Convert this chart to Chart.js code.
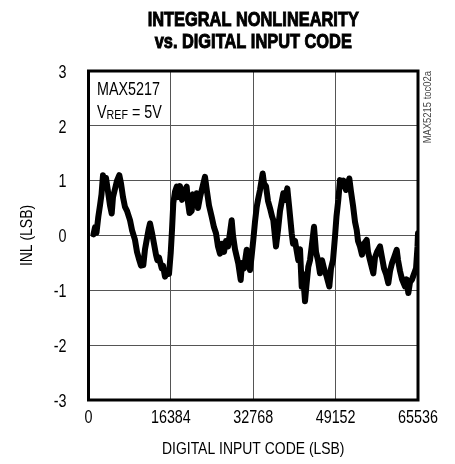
<!DOCTYPE html>
<html>
<head>
<meta charset="utf-8">
<script src="https://cdn.jsdelivr.net/npm/chart.js@4/dist/chart.umd.min.js"></script>
<style>
  html, body { margin: 0; padding: 0; background: #fff; }
  #wrap { width: 455px; height: 464px; }
</style>
</head>
<body>
<div id="wrap"><canvas id="inlChart" width="455" height="464"></canvas></div>
<script>
// valeurs (code d'entree, INL en LSB)
const codes = [995, 1293, 1591, 1949, 2287, 2586, 2884, 3182, 3481, 3879,
  4276, 4615, 4873, 5271, 5669, 6126, 6464, 6862, 7260, 7658,
  8254, 8652, 9249, 9647, 10104, 10442, 10900, 11238, 11576, 11934,
  12232, 12630, 13028, 13426, 13684, 14022, 14560, 14818, 15216, 15614,
  16011, 16350, 16608, 16867, 17205, 17543, 17802, 18199, 18597, 18995,
  19532, 19791, 20089, 20527, 20785, 21183, 21521, 21780, 22177, 22575,
  23172, 23570, 23967, 24505, 24962, 25360, 25758, 26155, 26553, 26951,
  27349, 27747, 28144, 28482, 28741, 29139, 29795, 30272, 30531, 30929,
  31466, 31724, 32122, 32420, 32778, 33117, 33455, 33713, 34111, 34648,
  34907, 35305, 35703, 36100, 36498, 36757, 37294, 37692, 38090, 38746,
  39084, 39542, 39880, 40417, 40676, 41074, 41730, 42068, 42406, 42665,
  43063, 43361, 43719, 44057, 44395, 44853, 45251, 45648, 46046, 46444,
  46842, 47378, 47895, 48233, 48631, 49029, 49327, 49685, 50023, 50421,
  50719, 51216, 51873, 52211, 52609, 53007, 53345, 53604, 54001, 54399,
  54797, 55334, 55593, 55991, 56647, 56985, 57383, 57980, 58378, 58775,
  59173, 59636, 59974, 60372, 60770, 61307, 61565, 61963, 62361, 62958,
  63256, 63614, 63952, 64350, 64748, 65146, 65439, 65536];
const inl = [0.02, 0.15, 0.05, 0.34, 0.55, 0.75, 1.10, 0.95, 1.05, 0.80,
  0.55, 0.40, 0.70, 0.85, 1.00, 1.10, 0.95, 0.70, 0.52, 0.45,
  0.28, 0.10, -0.08, -0.30, -0.45, -0.55, -0.54, -0.25, -0.08, 0.10,
  0.22, 0.05, -0.15, -0.35, -0.45, -0.40, -0.60, -0.55, -0.75, -0.65,
  -0.70, -0.32, 0.10, 0.59, 0.80, 0.89, 0.70, 0.90, 0.65, 0.80,
  0.89, 0.60, 0.41, 0.45, 0.75, 0.60, 0.77, 0.50, 0.70, 0.85,
  1.07, 0.80, 0.55, 0.34, 0.15, 0.04, -0.20, -0.33, -0.15, -0.30,
  -0.10, -0.20, 0.05, 0.28, 0.00, -0.25, -0.51, -0.81, -0.50, -0.60,
  -0.26, -0.45, -0.63, -0.40, -0.08, 0.25, 0.52, 0.65, 0.83, 1.13,
  0.95, 0.90, 0.63, 0.50, 0.35, 0.28, -0.20, 0.10, 0.45, 0.77,
  0.65, 0.86, 0.55, 0.04, -0.15, -0.10, -0.45, -0.25, -0.93, -0.70,
  -1.20, -0.90, -0.57, -0.45, -0.20, 0.16, -0.30, -0.45, -0.69, -0.45,
  -0.60, -0.75, -0.93, -0.60, -0.45, -0.02, 0.35, 0.65, 1.01, 0.90,
  1.00, 0.83, 1.04, 0.80, 0.55, 0.25, 0.10, -0.10, -0.20, -0.35,
  -0.15, -0.08, -0.30, -0.45, -0.69, -0.40, -0.30, -0.20, -0.40, -0.60,
  -0.70, -0.87, -0.65, -0.50, -0.40, -0.26, -0.45, -0.65, -0.80, -0.93,
  -0.80, -1.05, -0.85, -0.80, -0.70, -0.60, -0.20, 0.04];

const xTicks = [0, 16384, 32768, 49152, 65536];
const yTicks = [-3, -2, -1, 0, 1, 2, 3];

const titleLines = ['INTEGRAL NONLINEARITY', 'vs. DIGITAL INPUT CODE'];
const xTitle = 'DIGITAL INPUT CODE (LSB)';
const yTitle = 'INL (LSB)';
const sans = '"Liberation Sans", Arial, sans-serif';

// texte etroit : Liberation Sans compresse horizontalement
function narrowText(ctx, text, x, y, font, align, sx, rot, heavy) {
    ctx.save();
    ctx.font = font;
    ctx.textAlign = align;
    ctx.translate(x, y);
    if (rot) ctx.rotate(rot);
    ctx.scale(sx, 1);
    ctx.fillText(text, 0, 0);
    if (heavy) {
        ctx.lineWidth = heavy;
        ctx.strokeStyle = ctx.fillStyle;
        ctx.strokeText(text, 0, 0);
    }
    ctx.restore();
}

const decorPlugin = {
    id: 'decor',
    afterDraw(chart) {
        const ctx = chart.ctx;
        const a = chart.chartArea;
        const xs = chart.scales.x;
        const ys = chart.scales.y;
        const sx = 0.82;
        ctx.save();
        ctx.fillStyle = '#000';
        ctx.textBaseline = 'middle';

        // titre
        const cx = (a.left + a.right) / 2;
        narrowText(ctx, titleLines[0], cx, 20, 'bold 21px ' + sans, 'center', 0.78, 0, 1);
        narrowText(ctx, titleLines[1], cx, 42, 'bold 21px ' + sans, 'center', 0.78, 0, 1);

        // graduations
        xTicks.forEach(v => {
            narrowText(ctx, String(v), xs.getPixelForValue(v), 418, '17.5px ' + sans, 'center', sx);
        });
        yTicks.forEach(v => {
            narrowText(ctx, String(v), a.left - 22, ys.getPixelForValue(v) + 2, '17.5px ' + sans, 'right', sx);
        });

        // titres des axes
        narrowText(ctx, xTitle, cx, 449, '17px ' + sans, 'center', sx);
        narrowText(ctx, yTitle, 27, (a.top + a.bottom) / 2, '17px ' + sans, 'center', sx, -Math.PI / 2);

        // cadre
        ctx.lineWidth = 3;
        ctx.strokeStyle = '#000';
        ctx.strokeRect(a.left, a.top, a.right - a.left, a.bottom - a.top);

        // annotations
        ctx.textBaseline = 'alphabetic';
        const f1 = '17.5px ' + sans;
        const f2 = '13px ' + sans;
        let x = a.left + 8.5;
        narrowText(ctx, 'MAX5217', x, 95, f1, 'left', sx);
        narrowText(ctx, 'V', x, 118, f1, 'left', sx);
        ctx.font = f1;
        x += ctx.measureText('V').width * sx;
        narrowText(ctx, 'REF', x, 119, f2, 'left', sx);
        ctx.font = f2;
        x += ctx.measureText('REF').width * sx;
        narrowText(ctx, ' = 5V', x, 118, f1, 'left', sx);

        // reference verticale
        ctx.fillStyle = '#444';
        ctx.textBaseline = 'middle';
        narrowText(ctx, 'MAX5215 toc02a', a.right + 9.5, a.top, '11.5px ' + sans, 'right', sx, -Math.PI / 2);
        ctx.restore();
    }
};

const points = codes.map((c, i) => ({ x: c, y: inl[i] }));

const ctx = document.getElementById('inlChart').getContext('2d');
const inlChart = new Chart(ctx, {
    type: 'line',
    data: {
        datasets: [{
            data: points,
            borderColor: '#000',
            borderWidth: 6,
            borderJoinStyle: 'round',
            borderCapStyle: 'round',
            pointRadius: 0,
            tension: 0,
            fill: false
        }]
    },
    options: {
        responsive: false,
        animation: false,
        layout: { padding: { left: 0, top: 71, right: 37, bottom: 0 } },
        plugins: {
            legend: { display: false },
            tooltip: { enabled: false }
        },
        scales: {
            x: {
                type: 'linear',
                min: 0,
                max: 65536,
                afterBuildTicks: scale => {
                    scale.ticks = xTicks.map(v => ({ value: v }));
                },
                afterFit: scale => { scale.height = 64; },
                grid: { color: '#555', lineWidth: 1, drawTicks: false },
                border: { display: false },
                ticks: { display: false }
            },
            y: {
                min: -3,
                max: 3,
                afterBuildTicks: scale => {
                    scale.ticks = yTicks.map(v => ({ value: v }));
                },
                afterFit: scale => { scale.width = 88.5; },
                grid: { color: '#555', lineWidth: 1, drawTicks: false },
                border: { display: false },
                ticks: { display: false }
            }
        }
    },
    plugins: [decorPlugin]
});
</script>
</body>
</html>
